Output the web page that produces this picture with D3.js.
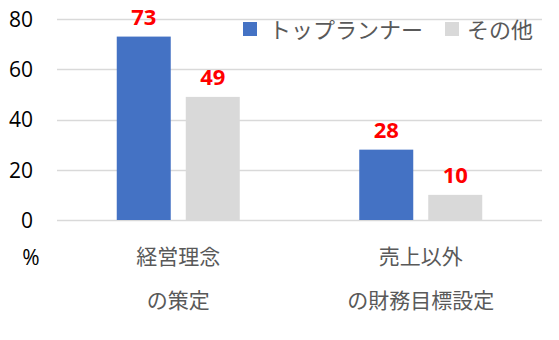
<!DOCTYPE html>
<html><head><meta charset="utf-8">
<script src="https://cdn.jsdelivr.net/npm/d3@7"></script>
<style>body{margin:0;background:#fff;}svg{display:block;}</style>
</head><body>
<svg id="c" width="559" height="340"></svg>
<script>
const categories = [["経営理念","の策定"],["売上以外","の財務目標設定"]];
const seriesNames = ["トップランナー","その他"];
const topRunner = [73, 28];
const others = [49, 10];
const yTicks = [0, 20, 40, 60, 80];
const colors = ["#4472C4", "#D9D9D9"];

(function(){
const svg = d3.select("#c");
const mLeft = 57, mRight = 542, mTop = 19, mBottom = 220;
const y = d3.scaleLinear().domain([0, 80]).range([mBottom, mTop]);
const x0 = d3.scaleBand().domain(d3.range(categories.length)).range([mLeft, mRight]).paddingInner(0).paddingOuter(0);
const groupW = 123;
const x1 = d3.scaleBand().domain([0, 1]).range([0, groupW]).paddingInner(15/69).paddingOuter(0);

// gridlines
svg.append("g").selectAll("line").data(yTicks).join("line")
  .attr("x1", mLeft).attr("x2", mRight)
  .attr("y1", d => Math.round(y(d)) + 0.5).attr("y2", d => Math.round(y(d)) + 0.5)
  .attr("stroke", "#D9D9D9").attr("stroke-width", 1.5);

// y axis labels
const yAxis = d3.axisLeft(y).tickValues(yTicks).tickSize(0).tickPadding(0);
const ya = svg.append("g").attr("transform", `translate(33,0)`).call(yAxis);
ya.select(".domain").remove();
ya.selectAll("text").attr("font-family", "'Open Sans', 'Liberation Sans', sans-serif")
  .attr("font-size", 21).attr("fill", "#000").attr("dy", "0.35em");

svg.append("text").attr("x", 31).attr("y", 265).attr("text-anchor", "middle")
  .attr("font-family", "'Open Sans', 'Liberation Sans', sans-serif").attr("font-size", 21).attr("fill", "#000").text("%");

const series = [topRunner, others];
const g = svg.append("g");
categories.forEach((cat, i) => {
  const cx = x0(i) + x0.bandwidth() / 2;
  const gx = cx - groupW / 2;
  series.forEach((vals, s) => {
    const bw = x1.bandwidth();
    const bx = gx + x1(s);
    g.append("rect").attr("x", bx).attr("y", y(vals[i]))
      .attr("width", bw).attr("height", y(0) - y(vals[i])).attr("fill", colors[s]);
    g.append("text").attr("x", bx + bw / 2).attr("y", y(vals[i]) - 12)
      .attr("text-anchor", "middle").attr("font-family", "'Open Sans', 'Liberation Sans', sans-serif")
      .attr("font-weight", "bold").attr("font-size", 22).attr("fill", "#FF0000").text(vals[i]);
  });
  cat.forEach((line, k) => {
    svg.append("text").attr("x", cx).attr("y", 264 + k * 44).attr("text-anchor", "middle")
      .attr("font-family", "'Noto Sans CJK JP', sans-serif").attr("font-size", 21)
      .attr("fill", "#595959").text(line);
  });
});

// legend
const leg = svg.append("g");
const legItems = [{x: 243, tx: 269}, {x: 445, tx: 467}];
seriesNames.forEach((n, s) => {
  leg.append("rect").attr("x", legItems[s].x).attr("y", 22).attr("width", 14).attr("height", 14).attr("fill", colors[s]);
  leg.append("text").attr("x", legItems[s].tx).attr("y", 38)
    .attr("font-family", "'Noto Sans CJK JP', sans-serif").attr("font-size", 22)
    .attr("fill", "#595959").text(n);
});
})();
</script>
</body></html>
